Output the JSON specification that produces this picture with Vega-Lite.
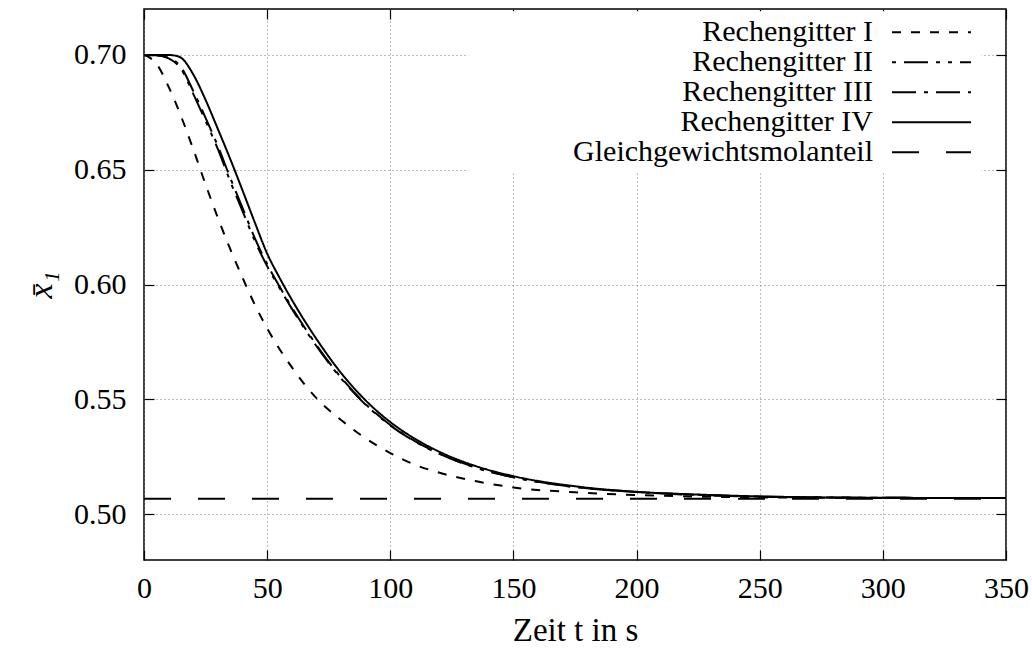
{
  "$schema": "https://vega.github.io/schema/vega-lite/v6.json",
  "width": 862,
  "height": 551,
  "autosize": {"type": "none"},
  "padding": {"left": 144, "top": 9, "right": 26, "bottom": 88},
  "background": "white",
  "config": {
    "font": "Liberation Serif",
    "view": {"stroke": "black", "strokeWidth": 1.5},
    "axis": {
      "labelFont": "Liberation Serif", "labelFontSize": 30, "labelColor": "black",
      "titleFont": "Liberation Serif", "titleFontSize": 33, "titleFontWeight": "normal", "titleColor": "black",
      "tickColor": "black", "tickSize": -10, "tickWidth": 1.2, "domain": false,
      "gridColor": "#7a7a7a", "gridDash": [1, 3], "gridWidth": 1
    },
    "legend": {
      "orient": "none", "legendX": 324.5, "legendY": 2.2,
      "symbolType": "M-3.95,0H3.95", "symbolSize": 400, "symbolStrokeColor": "black", "symbolFillColor": "transparent",
      "symbolOffset": 442, "labelOffset": -73.5, "labelAlign": "right", "labelBaseline": "middle",
      "labelFont": "Liberation Serif", "labelFontSize": 30, "labelColor": "black", "labelLimit": 600,
      "rowPadding": -2.6, "padding": 6, "fillColor": "white"
    }
  },
  "resolve": {"axis": {"x": "independent", "y": "independent"}},
  "layer": [
    {
      "data": {"values": [
        {"s": "Rechengitter I", "t": 0, "v": 0.7}, {"s": "Rechengitter I", "t": 2, "v": 0.699}, {"s": "Rechengitter I", "t": 5, "v": 0.6962},
        {"s": "Rechengitter I", "t": 10, "v": 0.6861}, {"s": "Rechengitter I", "t": 15, "v": 0.6734}, {"s": "Rechengitter I", "t": 20, "v": 0.6589},
        {"s": "Rechengitter I", "t": 25, "v": 0.6436}, {"s": "Rechengitter I", "t": 30, "v": 0.629}, {"s": "Rechengitter I", "t": 35, "v": 0.6155},
        {"s": "Rechengitter I", "t": 40, "v": 0.603}, {"s": "Rechengitter I", "t": 45, "v": 0.5912}, {"s": "Rechengitter I", "t": 50, "v": 0.5809},
        {"s": "Rechengitter I", "t": 60, "v": 0.564}, {"s": "Rechengitter I", "t": 70, "v": 0.5505}, {"s": "Rechengitter I", "t": 80, "v": 0.541},
        {"s": "Rechengitter I", "t": 90, "v": 0.533}, {"s": "Rechengitter I", "t": 100, "v": 0.5266}, {"s": "Rechengitter I", "t": 110, "v": 0.5215},
        {"s": "Rechengitter I", "t": 120, "v": 0.518}, {"s": "Rechengitter I", "t": 135, "v": 0.5143}, {"s": "Rechengitter I", "t": 150, "v": 0.5116},
        {"s": "Rechengitter I", "t": 175, "v": 0.5095}, {"s": "Rechengitter I", "t": 200, "v": 0.5083}, {"s": "Rechengitter I", "t": 225, "v": 0.5076},
        {"s": "Rechengitter I", "t": 250, "v": 0.5073}, {"s": "Rechengitter I", "t": 300, "v": 0.507}, {"s": "Rechengitter I", "t": 350, "v": 0.507},

        {"s": "Rechengitter II", "t": 0, "v": 0.7}, {"s": "Rechengitter II", "t": 5, "v": 0.6998}, {"s": "Rechengitter II", "t": 10, "v": 0.6985},
        {"s": "Rechengitter II", "t": 15, "v": 0.694}, {"s": "Rechengitter II", "t": 20, "v": 0.683}, {"s": "Rechengitter II", "t": 25, "v": 0.6712},
        {"s": "Rechengitter II", "t": 30, "v": 0.659}, {"s": "Rechengitter II", "t": 35, "v": 0.645}, {"s": "Rechengitter II", "t": 40, "v": 0.632},
        {"s": "Rechengitter II", "t": 45, "v": 0.619}, {"s": "Rechengitter II", "t": 50, "v": 0.608}, {"s": "Rechengitter II", "t": 55, "v": 0.5985},
        {"s": "Rechengitter II", "t": 60, "v": 0.5895}, {"s": "Rechengitter II", "t": 70, "v": 0.5732}, {"s": "Rechengitter II", "t": 80, "v": 0.5591},
        {"s": "Rechengitter II", "t": 90, "v": 0.5476}, {"s": "Rechengitter II", "t": 100, "v": 0.5386}, {"s": "Rechengitter II", "t": 110, "v": 0.5316},
        {"s": "Rechengitter II", "t": 120, "v": 0.5262}, {"s": "Rechengitter II", "t": 135, "v": 0.5201}, {"s": "Rechengitter II", "t": 150, "v": 0.516},
        {"s": "Rechengitter II", "t": 175, "v": 0.5118}, {"s": "Rechengitter II", "t": 200, "v": 0.5096}, {"s": "Rechengitter II", "t": 225, "v": 0.5083},
        {"s": "Rechengitter II", "t": 250, "v": 0.5076}, {"s": "Rechengitter II", "t": 300, "v": 0.5071}, {"s": "Rechengitter II", "t": 350, "v": 0.507},

        {"s": "Rechengitter III", "t": 0, "v": 0.7}, {"s": "Rechengitter III", "t": 5, "v": 0.6998}, {"s": "Rechengitter III", "t": 10, "v": 0.6987},
        {"s": "Rechengitter III", "t": 15, "v": 0.6947}, {"s": "Rechengitter III", "t": 20, "v": 0.6843}, {"s": "Rechengitter III", "t": 25, "v": 0.6726},
        {"s": "Rechengitter III", "t": 30, "v": 0.6603}, {"s": "Rechengitter III", "t": 35, "v": 0.6465}, {"s": "Rechengitter III", "t": 40, "v": 0.6334},
        {"s": "Rechengitter III", "t": 45, "v": 0.6202}, {"s": "Rechengitter III", "t": 50, "v": 0.6088}, {"s": "Rechengitter III", "t": 55, "v": 0.5992},
        {"s": "Rechengitter III", "t": 60, "v": 0.5901}, {"s": "Rechengitter III", "t": 70, "v": 0.5737}, {"s": "Rechengitter III", "t": 80, "v": 0.5595},
        {"s": "Rechengitter III", "t": 90, "v": 0.5479}, {"s": "Rechengitter III", "t": 100, "v": 0.5388}, {"s": "Rechengitter III", "t": 110, "v": 0.5318},
        {"s": "Rechengitter III", "t": 120, "v": 0.5263}, {"s": "Rechengitter III", "t": 135, "v": 0.5202}, {"s": "Rechengitter III", "t": 150, "v": 0.5161},
        {"s": "Rechengitter III", "t": 175, "v": 0.5118}, {"s": "Rechengitter III", "t": 200, "v": 0.5096}, {"s": "Rechengitter III", "t": 225, "v": 0.5084},
        {"s": "Rechengitter III", "t": 250, "v": 0.5076}, {"s": "Rechengitter III", "t": 300, "v": 0.5071}, {"s": "Rechengitter III", "t": 350, "v": 0.507},

        {"s": "Rechengitter IV", "t": 0, "v": 0.7}, {"s": "Rechengitter IV", "t": 5, "v": 0.7}, {"s": "Rechengitter IV", "t": 10, "v": 0.7},
        {"s": "Rechengitter IV", "t": 12, "v": 0.6998}, {"s": "Rechengitter IV", "t": 15, "v": 0.6988}, {"s": "Rechengitter IV", "t": 20, "v": 0.6915},
        {"s": "Rechengitter IV", "t": 25, "v": 0.6804}, {"s": "Rechengitter IV", "t": 30, "v": 0.6677}, {"s": "Rechengitter IV", "t": 35, "v": 0.6547},
        {"s": "Rechengitter IV", "t": 40, "v": 0.641}, {"s": "Rechengitter IV", "t": 45, "v": 0.627}, {"s": "Rechengitter IV", "t": 50, "v": 0.6135},
        {"s": "Rechengitter IV", "t": 55, "v": 0.603}, {"s": "Rechengitter IV", "t": 60, "v": 0.5934}, {"s": "Rechengitter IV", "t": 70, "v": 0.5763},
        {"s": "Rechengitter IV", "t": 80, "v": 0.5615}, {"s": "Rechengitter IV", "t": 90, "v": 0.5495}, {"s": "Rechengitter IV", "t": 100, "v": 0.5401},
        {"s": "Rechengitter IV", "t": 110, "v": 0.5328}, {"s": "Rechengitter IV", "t": 120, "v": 0.5271}, {"s": "Rechengitter IV", "t": 135, "v": 0.5208},
        {"s": "Rechengitter IV", "t": 150, "v": 0.5165}, {"s": "Rechengitter IV", "t": 175, "v": 0.5121}, {"s": "Rechengitter IV", "t": 200, "v": 0.5097},
        {"s": "Rechengitter IV", "t": 225, "v": 0.5085}, {"s": "Rechengitter IV", "t": 250, "v": 0.5077}, {"s": "Rechengitter IV", "t": 300, "v": 0.5071},
        {"s": "Rechengitter IV", "t": 350, "v": 0.507},

        {"s": "Gleichgewichtsmolanteil", "t": 0, "v": 0.5067}, {"s": "Gleichgewichtsmolanteil", "t": 350, "v": 0.5067}
      ]},
      "mark": {"type": "line", "interpolate": "monotone", "color": "black", "clip": true},
      "encoding": {
        "x": {"field": "t", "type": "quantitative", "scale": {"domain": [0, 350], "nice": false, "zero": false},
              "axis": {"title": "Zeit t in s", "values": [0, 50, 100, 150, 200, 250, 300, 350], "labelPadding": 23.5, "titlePadding": 11, "grid": true, "labelFlush": false}},
        "y": {"field": "v", "type": "quantitative", "scale": {"domain": [0.48, 0.72], "nice": false, "zero": false},
              "axis": {"title": "x̄₁", "titleFontStyle": "italic", "titleFontSize": 34, "values": [0.5, 0.55, 0.6, 0.65, 0.7], "format": ".2f", "labelPadding": 28, "titlePadding": 15, "grid": true, "labelFlush": false}},
        "strokeDash": {"field": "s", "type": "nominal",
          "scale": {"domain": ["Rechengitter I", "Rechengitter II", "Rechengitter III", "Rechengitter IV", "Gleichgewichtsmolanteil"],
                    "range": [[9, 10], [4, 8, 24, 8, 4, 8], [24, 8, 4, 8], [1, 0], [27, 27]]},
          "legend": {"title": null}},
        "strokeWidth": {"field": "s", "type": "nominal",
          "scale": {"domain": ["Rechengitter I", "Rechengitter II", "Rechengitter III", "Rechengitter IV", "Gleichgewichtsmolanteil"],
                    "range": [2, 2, 2, 3, 3]},
          "legend": {"title": null}}
      }
    },
    {
      "data": {"values": [{"t": 0, "v": 0.5}]},
      "mark": {"type": "point", "opacity": 0},
      "encoding": {
        "x": {"field": "t", "type": "quantitative", "axis": {"orient": "top", "labels": false, "grid": false, "title": null, "values": [0, 50, 100, 150, 200, 250, 300, 350]}},
        "y": {"field": "v", "type": "quantitative", "axis": {"orient": "right", "labels": false, "grid": false, "title": null, "values": [0.5, 0.55, 0.6, 0.65, 0.7]}}
      }
    }
  ]
}
